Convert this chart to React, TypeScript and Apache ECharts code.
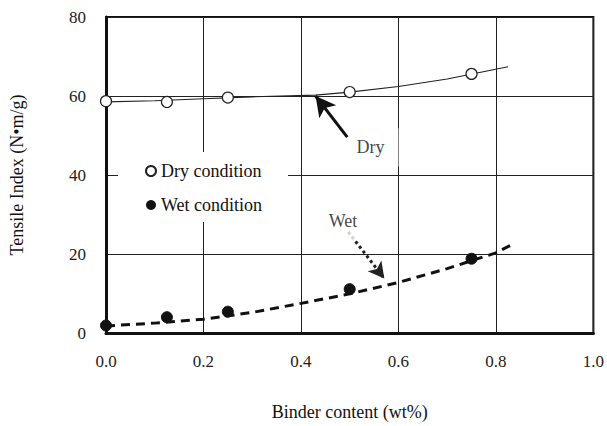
import React, { useEffect, useRef } from "react";
import * as echarts from "echarts";

const xTicks = [0, 0.2, 0.4, 0.6, 0.8, 1.0];
const dryPoints = [[0, 58.7], [0.125, 58.5], [0.25, 59.6], [0.5, 61.0], [0.75, 65.6]];
const wetPoints = [[0, 1.9], [0.125, 4.0], [0.25, 5.4], [0.5, 11.1], [0.75, 18.8]];
const dryFit = [[0, 58.5], [0.1, 58.8], [0.2, 59.3], [0.3, 59.8], [0.43, 60.2], [0.5, 61.0], [0.6, 62.4], [0.7, 64.3], [0.825, 67.4]];
const wetFit = [[0, 1.8], [0.1, 2.5], [0.2, 3.5], [0.3, 5.2], [0.4, 7.5], [0.5, 9.9], [0.6, 12.8], [0.7, 16.3], [0.8, 20.3], [0.83, 22.2]];
const dryArrow = [[0.495, 49.6], [0.43, 60.0]];
const wetArrow = [[0.497, 25.6], [0.571, 13.8]];
const annotations = [
  { name: "Dry", value: [0.51, 47.0] },
  { name: "Wet", value: [0.453, 28.3] },
];

const FONT = "Liberation Serif";

export default function App() {
  const ref = useRef<HTMLDivElement>(null);
  useEffect(() => {
    const chart = echarts.init(ref.current!, null, { renderer: "svg" });
    chart.setOption({
      animation: false,
      backgroundColor: "#fff",
      textStyle: { fontFamily: FONT, color: "#111" },
      grid: { left: 105, right: 10, top: 17, bottom: 92, show: true, borderColor: "#111", borderWidth: 2 },
      xAxis: {
        type: "value",
        min: 0,
        max: 1,
        interval: 0.2,
        name: "Binder content (wt%)",
        nameLocation: "middle",
        nameGap: 70,
        nameTextStyle: { fontFamily: FONT, fontSize: 18, color: "#111" },
        axisLine: { show: true, lineStyle: { color: "#111", width: 3 } },
        axisTick: { show: false },
        axisLabel: {
          fontFamily: FONT, fontSize: 17, color: "#222", margin: 20,
          formatter: (v: number) => v.toFixed(1),
        },
        splitLine: { show: true, lineStyle: { color: "#222", width: 1 } },
      },
      yAxis: {
        type: "value",
        min: 0,
        max: 80,
        interval: 20,
        name: "Tensile Index (N\u2022m/g)",
        nameLocation: "middle",
        nameGap: 80,
        nameTextStyle: { fontFamily: FONT, fontSize: 18, color: "#111" },
        axisLine: { show: true, lineStyle: { color: "#111", width: 3 } },
        axisTick: { show: false },
        axisLabel: { fontFamily: FONT, fontSize: 17, color: "#222", margin: 20 },
        splitLine: { show: true, lineStyle: { color: "#222", width: 1 } },
      },
      legend: {
        data: ["Dry condition", "Wet condition"],
        orient: "vertical",
        left: 118,
        top: 152,
        padding: [10, 26, 8, 27],
        itemGap: 16,
        itemWidth: 10,
        itemHeight: 10,
        backgroundColor: "#fff",
        textStyle: { fontFamily: FONT, fontSize: 18, color: "#111" },
      },
      series: [
        {
          name: "dryFit",
          type: "line",
          data: dryFit,
          symbol: "none",
          silent: true,
          lineStyle: { color: "#222", width: 1.2 },
          z: 3,
        },
        {
          name: "wetFit",
          type: "line",
          data: wetFit,
          symbol: "none",
          silent: true,
          lineStyle: { color: "#111", width: 3, type: [9, 6] },
          z: 3,
        },
        {
          name: "Dry condition",
          type: "scatter",
          data: dryPoints,
          symbol: "circle",
          symbolSize: 11,
          itemStyle: { color: "#fff", borderColor: "#222", borderWidth: 1.2, opacity: 1 },
          z: 5,
          markLine: {
            silent: true,
            symbol: ["none", "arrow"],
            symbolSize: [16, 20],
            label: { show: false },
            lineStyle: { color: "#111", width: 3, type: "solid" },
            data: [[{ coord: dryArrow[0] }, { coord: dryArrow[1] }]],
          },
        },
        {
          name: "Wet condition",
          type: "scatter",
          data: wetPoints,
          symbol: "circle",
          symbolSize: 11,
          itemStyle: { color: "#111", borderColor: "#111", opacity: 1 },
          z: 5,
          markLine: {
            silent: true,
            symbol: ["none", "arrow"],
            symbolSize: [13, 16],
            label: { show: false },
            lineStyle: { color: "#222", width: 3, type: "dotted" },
            data: [[{ coord: wetArrow[0] }, { coord: wetArrow[1] }]],
          },
        },
        {
          name: "labels",
          type: "scatter",
          data: annotations,
          symbolSize: 0,
          silent: true,
          z: 6,
          label: {
            show: true,
            position: "right",
            distance: 0,
            formatter: "{b}",
            fontFamily: FONT,
            fontSize: 18,
            color: "#111",
            backgroundColor: "#fff",
            padding: [10, 14, 10, 2],
          },
        },
      ],
    });
    return () => chart.dispose();
  }, []);
  return <div ref={ref} style={{ position: "fixed", left: 0, top: 0, width: 607, height: 426 }} />;
}
